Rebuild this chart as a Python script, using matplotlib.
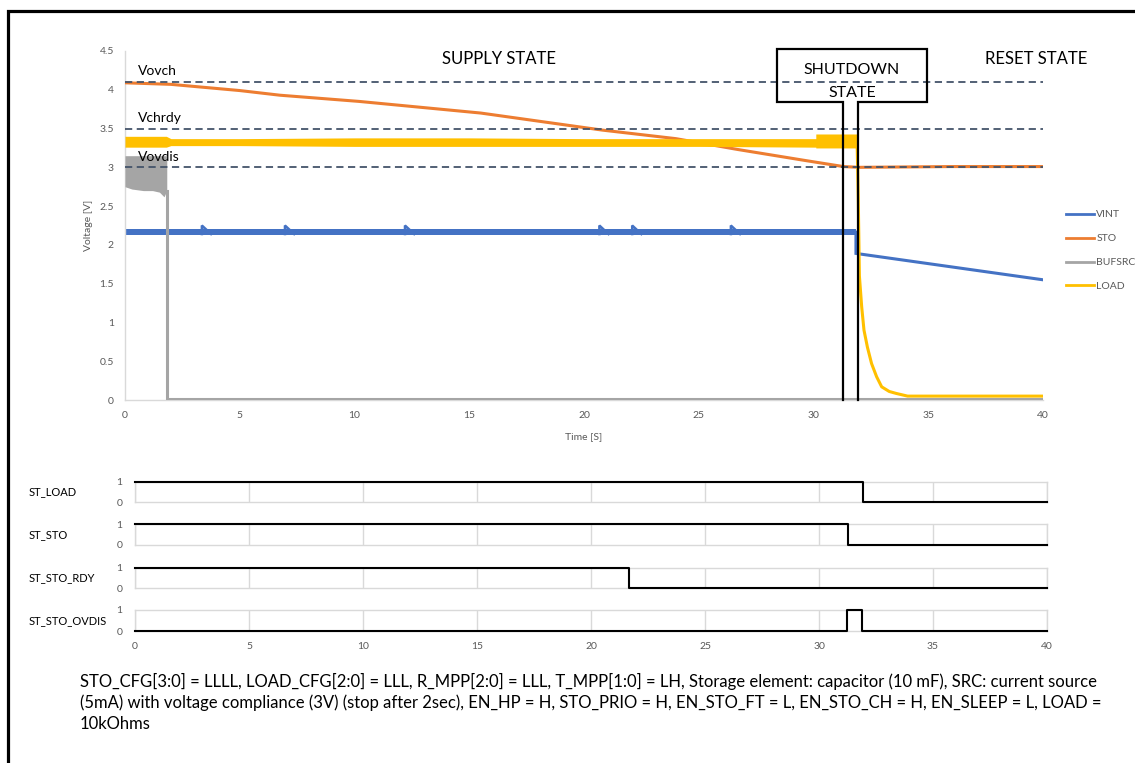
import matplotlib
matplotlib.use("Agg")
import matplotlib.pyplot as plt
from matplotlib.lines import Line2D
from matplotlib.patches import Rectangle

plt.rcParams['font.family'] = ['Lato', 'DejaVu Sans']

W, H = 1135, 763
DPI = 100

# ---------------- data ----------------
# STO (orange)
STO_t = [0, 2, 5, 6.75, 10.2, 15.5, 20.8, 24, 26.7, 29.6, 31.3, 32, 36, 40]
STO_v = [4.09, 4.07, 3.99, 3.93, 3.85, 3.70, 3.48, 3.37, 3.23, 3.09, 3.01, 3.00, 3.01, 3.01]

# LOAD (yellow): noisy band envelope, then decay
LOAD_band_t = [0, 1.8, 2.0, 5, 10, 15, 20, 25, 30.1, 30.1, 31.9]
LOAD_band_hi = [3.40, 3.40, 3.37, 3.37, 3.38, 3.38, 3.37, 3.37, 3.37, 3.43, 3.43]
LOAD_band_lo = [3.26, 3.26, 3.28, 3.28, 3.27, 3.27, 3.27, 3.27, 3.26, 3.25, 3.25]
LOAD_t = [31.9, 31.95, 32.0, 32.1, 32.2, 32.35, 32.53, 32.75, 32.97, 33.3, 33.6, 34.1, 40]
LOAD_v = [3.32, 2.6, 1.6, 1.2, 0.9, 0.68, 0.47, 0.3, 0.17, 0.11, 0.085, 0.05, 0.05]

# VINT (blue): ripple band, occasional larger teeth, then discharge
VINT_t = [0, 31.85, 31.85, 40]
VINT_v = [2.165, 2.165, 1.89, 1.55]
VINT_ripple_lo = 2.13
VINT_ripple_hi = 2.20
VINT_tooth_t = [3.35, 6.97, 12.2, 20.67, 22.1, 26.4]
VINT_tooth_peak = 2.25
VINT_tooth_base = 2.14
VINT_tooth_fall = 0.4

# BUFSRC (gray): noisy band, then 0
BUF_band_t = [0, 0.3, 0.8, 1.2, 1.5, 1.7, 1.82]
BUF_band_hi = [3.15, 3.15, 3.15, 3.15, 3.15, 3.15, 3.15]
BUF_band_lo = [2.75, 2.72, 2.70, 2.70, 2.68, 2.62, 2.70]
BUF_t = [1.82, 1.82, 40]
BUF_v = [2.70, 0.01, 0.01]

# thresholds
thr_names = ['Vovch', 'Vchrdy', 'Vovdis']
thr_vals = [4.1, 3.5, 3.0]

# state events
t_shutdown = 31.3
t_reset = 31.93

# digital status signals
dig_names = ['ST_LOAD', 'ST_STO', 'ST_STO_RDY', 'ST_STO_OVDIS']
dig_t = [
    [0, 31.93, 40],
    [0, 31.26, 40],
    [0, 21.68, 40],
    [0, 31.21, 31.87, 40],
]
dig_v = [
    [1, 0, 0],
    [1, 0, 0],
    [1, 0, 0],
    [0, 1, 0, 0],
]

caption = ("STO_CFG[3:0] = LLLL, LOAD_CFG[2:0] = LLL, R_MPP[2:0] = LLL, T_MPP[1:0] = LH, Storage element: capacitor (10 mF), SRC: current source\n"
           "(5mA) with voltage compliance (3V) (stop after 2sec), EN_HP = H, STO_PRIO = H, EN_STO_FT = L, EN_STO_CH = H, EN_SLEEP = L, LOAD =\n"
           "10kOhms")

C_VINT = '#4472C4'
C_STO = '#ED7D31'
C_BUF = '#A5A5A5'
C_LOAD = '#FFC000'
C_DASH = '#44546A'
C_TICK = '#595959'
C_GRID = '#D9D9D9'

def fx(px):
    return px / W

def fy(py):
    return 1 - py / H

fig = plt.figure(figsize=(W / DPI, H / DPI), dpi=DPI)

# outer border
fig.patches.append(Rectangle((fx(7.5), -0.1), 1.2, fy(11) + 0.1, transform=fig.transFigure,
                             fill=False, edgecolor='black', linewidth=2.3))

# ---------------- main axes ----------------
ax = fig.add_axes([fx(125), fy(400), fx(1043) - fx(125), fy(51) - fy(400)])
ax.set_xlim(0, 40)
ax.set_ylim(0, 4.5)

lw = 2.2
# VINT
ax.fill_between([VINT_t[0], VINT_t[1]], VINT_ripple_lo, VINT_ripple_hi, color=C_VINT, lw=0, zorder=2)
ax.plot(VINT_t, VINT_v, color=C_VINT, lw=lw, zorder=2, solid_joinstyle='miter')
for tt in VINT_tooth_t:
    ax.plot([tt, tt, tt + VINT_tooth_fall], [VINT_tooth_base, VINT_tooth_peak, VINT_tooth_base],
            color=C_VINT, lw=1.8, zorder=2, solid_joinstyle='miter')
# STO
ax.plot(STO_t, STO_v, color=C_STO, lw=lw, zorder=3)
# BUFSRC
ax.fill_between(BUF_band_t, BUF_band_lo, BUF_band_hi, color=C_BUF, lw=0, zorder=4)
ax.plot(BUF_t, BUF_v, color=C_BUF, lw=lw, zorder=4)
# LOAD
ax.fill_between(LOAD_band_t, LOAD_band_lo, LOAD_band_hi, color=C_LOAD, lw=0, zorder=5)
ax.plot(LOAD_t, LOAD_v, color=C_LOAD, lw=lw, zorder=5)

# thresholds
for name, v in zip(thr_names, thr_vals):
    ax.plot([0, 40], [v, v], color=C_DASH, lw=1.3, ls=(0, (4, 2.5)), zorder=6)
    ax.text(0.57, v + 0.088, name, fontsize=10, ha='left', va='baseline', color='black', zorder=7)

# state annotations
ax.text(16.3, 4.40, 'SUPPLY STATE', fontsize=12, ha='center', va='center')
ax.text(39.7, 4.40, 'RESET STATE', fontsize=12, ha='center', va='center')
box_l, box_r, box_b, box_t = 28.41, 34.95, 3.842, 4.526
ax.plot([t_shutdown, t_shutdown, box_l, box_l, box_r, box_r, t_reset, t_reset],
        [0, box_b, box_b, box_t, box_t, box_b, box_b, 0],
        color='black', lw=1.6, zorder=8, clip_on=False, solid_joinstyle='miter')
ax.text((box_l + box_r) / 2, 4.25, 'SHUTDOWN', fontsize=11.5, ha='center', va='center', zorder=9)
ax.text((box_l + box_r) / 2, 3.96, 'STATE', fontsize=11.5, ha='center', va='center', zorder=9)

ax.set_xticks(range(0, 41, 5))
ax.set_yticks([0, 0.5, 1, 1.5, 2, 2.5, 3, 3.5, 4, 4.5])
ax.set_yticklabels(['0', '0.5', '1', '1.5', '2', '2.5', '3', '3.5', '4', '4.5'])
ax.tick_params(length=0, labelsize=7.5, labelcolor=C_TICK, pad=8)
for s in ['top', 'right']:
    ax.spines[s].set_visible(False)
for s in ['left', 'bottom']:
    ax.spines[s].set_color(C_GRID)
    ax.spines[s].set_linewidth(1.0)
ax.set_xlabel('Time [S]', fontsize=7.5, color=C_TICK)
ax.xaxis.set_label_coords(0.5, (400 - 432) / 349)
ax.set_ylabel('Voltage [V]', fontsize=7.5, color=C_TICK)
ax.yaxis.set_label_coords((93 - 125) / 918, 0.5)

handles = [Line2D([], [], color=c, lw=2.0) for c in [C_VINT, C_STO, C_BUF, C_LOAD]]
fig.legend(handles, ['VINT', 'STO', 'BUFSRC', 'LOAD'], loc='upper left',
           bbox_to_anchor=(fx(1062), fy(206)), frameon=False, fontsize=7.5,
           labelspacing=1.4, handlelength=2.7, handletextpad=0.2, borderaxespad=0,
           labelcolor=C_TICK)

# ---------------- digital strips ----------------
strips = [(482, 502), (524.3, 545), (567.7, 588.3), (609.7, 631.3)]
for i, (name, (top, bot)) in enumerate(zip(dig_names, strips)):
    a = fig.add_axes([fx(135), fy(bot), fx(1047) - fx(135), fy(top) - fy(bot)])
    a.set_xlim(0, 40)
    a.set_ylim(0, 1)
    a.step(dig_t[i], dig_v[i], where='post', color='black', lw=1.5, clip_on=False, zorder=5)
    a.set_xticks(range(0, 41, 5))
    a.set_yticks([0, 1])
    a.grid(axis='x', color=C_GRID, lw=1.0)
    for s in a.spines.values():
        s.set_color(C_GRID)
        s.set_linewidth(1.0)
    a.tick_params(length=0, labelsize=7.5, labelcolor=C_TICK, pad=9)
    if i < 3:
        a.tick_params(labelbottom=False)
    else:
        a.tick_params(axis='x', pad=8)
    fig.text(fx(29), fy((top + bot) / 2), name, fontsize=8, ha='left', va='center')

fig.text(fx(80), fy(673), caption, fontsize=12, ha='left', va='top', linespacing=1.35)

fig.savefig('out.png', dpi=DPI)
